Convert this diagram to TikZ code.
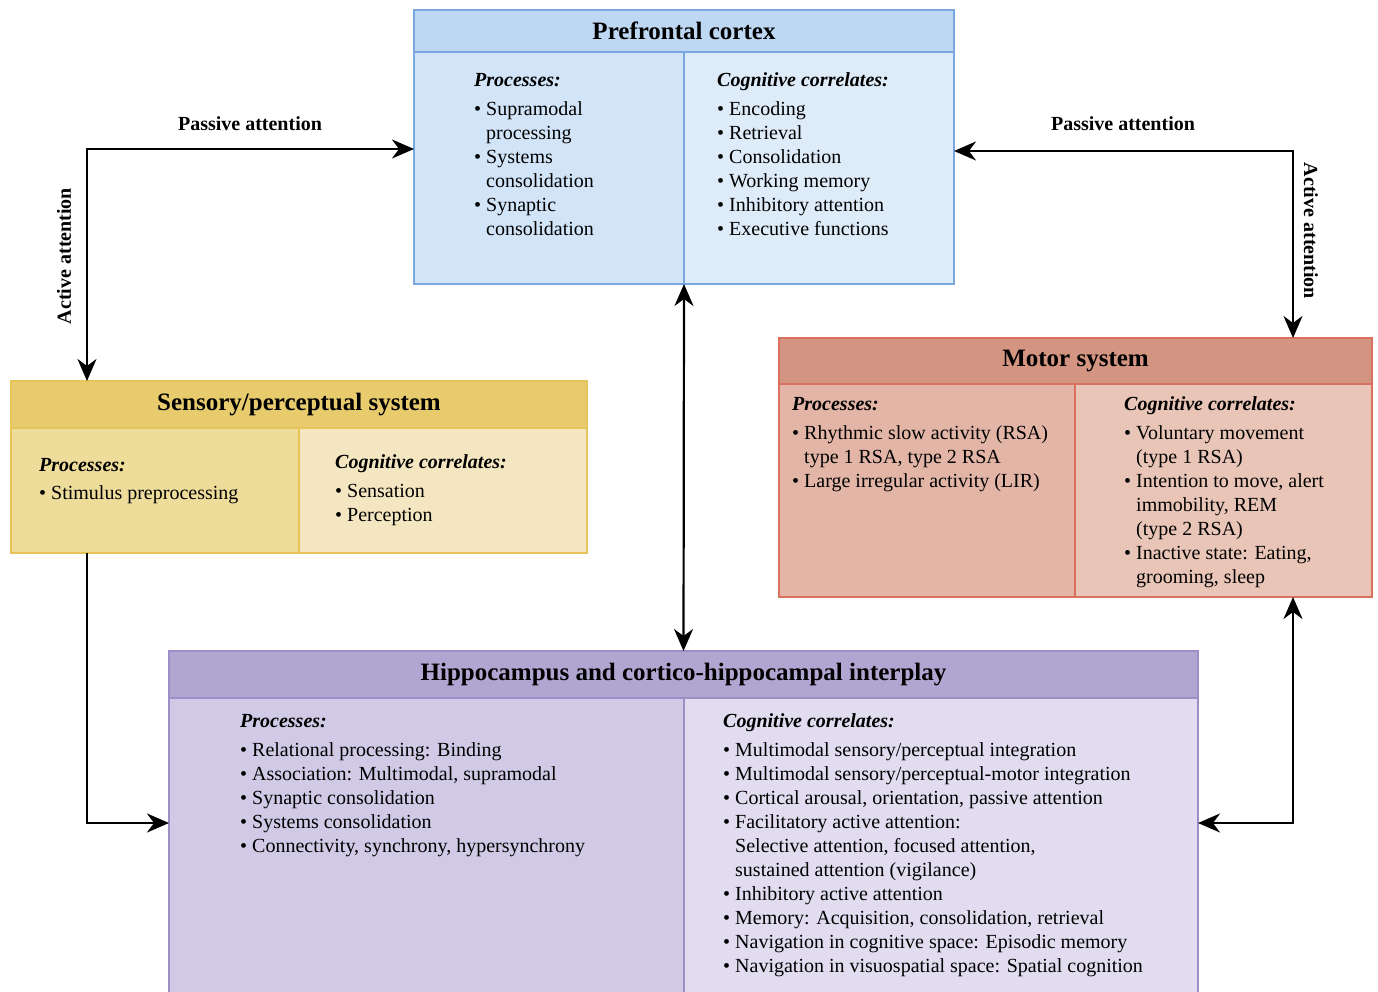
\documentclass[tikz,border=0pt]{standalone}
\usepackage{fontspec}
\setmainfont{Liberation Serif}
\usetikzlibrary{arrows.meta}
\definecolor{pfch}{HTML}{BED8F4}
\definecolor{pfcl}{HTML}{D2E4F8}
\definecolor{pfcr}{HTML}{DEEBF9}
\definecolor{pfcb}{HTML}{7AA7E0}
\definecolor{senh}{HTML}{E7CB6C}
\definecolor{senl}{HTML}{EEDC9B}
\definecolor{senr}{HTML}{F3E6C0}
\definecolor{senb}{HTML}{E6C45A}
\definecolor{moth}{HTML}{D49482}
\definecolor{motl}{HTML}{E2B5A6}
\definecolor{motr}{HTML}{E9C5B7}
\definecolor{motb}{HTML}{D97060}
\definecolor{hiph}{HTML}{B1A6D1}
\definecolor{hipl}{HTML}{D1CAE6}
\definecolor{hipr}{HTML}{E1DCEF}
\definecolor{hipb}{HTML}{9B8FC7}
\newcommand\bl{\makebox[12pt][l]{\textbullet}}
\newcommand\ind{\hspace*{12pt}}
\newcommand\hd[1]{\strut\textbf{\textit{#1}}}
\tikzset{
  panel/.style={anchor=north west, inner sep=0pt, outer sep=0pt, line width=1.3pt},
  head/.style={panel, font=\fontsize{25}{28}\selectfont\bfseries},
  txt/.style={anchor=north west, align=left, inner sep=0pt, font=\fontsize{20}{24}\selectfont},
  lbl/.style={inner sep=0pt, font=\fontsize{20}{22}\selectfont\bfseries},
  conn/.style={line width=2.2pt, line join=miter, arrows={Stealth[length=22pt,width=19pt,inset=7pt]-Stealth[length=22pt,width=19pt,inset=7pt]}},
  conn1/.style={line width=2.2pt, line join=miter, -{Stealth[length=22pt,width=19pt,inset=7pt]}}
}
\begin{document}
\begin{tikzpicture}[x=1pt,y=-1pt]
\useasboundingbox (0,0) rectangle (1378,992);
% Prefrontal cortex
\node[panel, fill=pfcl, draw=pfcb, minimum width=270pt, minimum height=232pt] (pfcL) at (414,52) {};
\node[panel, fill=pfcr, draw=pfcb, minimum width=270pt, minimum height=232pt] (pfcR) at (684,52) {};
\node[head, fill=pfch, draw=pfcb, minimum width=540pt, minimum height=42pt] (pfcT) at (414,10) {Prefrontal cortex};
\node[panel, draw=pfcb, minimum width=540pt, minimum height=274pt] (pfc) at (414,10) {};
\node[txt] (pfcLt) at (474,70) {\hd{Processes:}\\[5pt]
\bl Supramodal\\ \ind processing\\ \bl Systems\\ \ind consolidation\\ \bl Synaptic\\ \ind consolidation};
\node[txt] (pfcRt) at (717,70) {\hd{Cognitive correlates:}\\[5pt]
\bl Encoding\\ \bl Retrieval\\ \bl Consolidation\\ \bl Working memory\\ \bl Inhibitory attention\\ \bl Executive functions};
% Sensory
\node[panel, fill=senl, draw=senb, minimum width=288pt, minimum height=125pt] (senL) at (11,428) {};
\node[panel, fill=senr, draw=senb, minimum width=288pt, minimum height=125pt] (senR) at (299,428) {};
\node[head, fill=senh, draw=senb, minimum width=576pt, minimum height=47pt] (senT) at (11,381) {Sensory/perceptual system};
\node[panel, draw=senb, minimum width=576pt, minimum height=172pt] (sens) at (11,381) {};
\node[txt] (senLt) at (39,454) {\hd{Processes:}\\[4pt] \bl Stimulus preprocessing};
\node[txt] (senRt) at (335,451) {\hd{Cognitive correlates:}\\[5pt] \bl Sensation\\ \bl Perception};
% Motor
\node[panel, fill=motl, draw=motb, minimum width=296pt, minimum height=213pt] (motL) at (779,384) {};
\node[panel, fill=motr, draw=motb, minimum width=297pt, minimum height=213pt] (motR) at (1075,384) {};
\node[head, fill=moth, draw=motb, minimum width=593pt, minimum height=46pt] (motT) at (779,338) {Motor system};
\node[panel, draw=motb, minimum width=593pt, minimum height=259pt] (mot) at (779,338) {};
\node[txt] (motLt) at (792,393) {\hd{Processes:}\\[5pt]
\bl Rhythmic slow activity (RSA)\\ \ind type 1 RSA, type 2 RSA\\ \bl Large irregular activity (LIR)};
\node[txt] (motRt) at (1124,393) {\hd{Cognitive correlates:}\\[5pt]
\bl Voluntary movement\\ \ind (type 1 RSA)\\ \bl Intention to move, alert\\ \ind immobility, REM\\ \ind (type 2 RSA)\\ \bl Inactive state: Eating,\\ \ind grooming, sleep};
% Hippocampus
\node[panel, fill=hipl, draw=hipb, minimum width=515pt, minimum height=302pt] (hipL) at (169,698) {};
\node[panel, fill=hipr, draw=hipb, minimum width=514pt, minimum height=302pt] (hipR) at (684,698) {};
\node[head, fill=hiph, draw=hipb, minimum width=1029pt, minimum height=47pt] (hipT) at (169,651) {Hippocampus and cortico-hippocampal interplay};
\node[panel, draw=hipb, minimum width=1029pt, minimum height=349pt] (hip) at (169,651) {};
\node[txt] (hipLt) at (240,710) {\hd{Processes:}\\[5pt]
\bl Relational processing: Binding\\ \bl Association: Multimodal, supramodal\\ \bl Synaptic consolidation\\ \bl Systems consolidation\\ \bl Connectivity, synchrony, hypersynchrony};
\node[txt] (hipRt) at (723,710) {\hd{Cognitive correlates:}\\[5pt]
\bl Multimodal sensory/perceptual integration\\ \bl Multimodal sensory/perceptual-motor integration\\ \bl Cortical arousal, orientation, passive attention\\ \bl Facilitatory active attention:\\ \ind Selective attention, focused attention,\\ \ind sustained attention (vigilance)\\ \bl Inhibitory active attention\\ \bl Memory: Acquisition, consolidation, retrieval\\ \bl Navigation in cognitive space: Episodic memory\\ \bl Navigation in visuospatial space: Spatial cognition};
% Connectors
\coordinate (lc) at (87,149);
\coordinate (rc) at (1293,151);
\coordinate (lb) at (87,823);
\coordinate (rb) at (1293,823);
\draw[conn] (sens.north -| lc) -- (lc) -- (pfc.west |- lc);
\draw[conn] (pfc.east |- rc) -- (rc) -- (mot.north -| rc);
\draw[conn] (pfc.south) -- (hip.north);
\draw[conn1] (sens.south -| lb) -- (lb) -- (hip.west |- lb);
\draw[conn] (mot.south -| rb) -- (rb) -- (hip.east |- rb);
% Labels
\node[lbl] (lp1) at (250,124) {Passive attention};
\node[lbl] (lp2) at (1123,124) {Passive attention};
\node[lbl, rotate=90] (la1) at (64,256) {Active attention};
\node[lbl, rotate=-90] (la2) at (1311,231) {Active attention};
\end{tikzpicture}
\end{document}
